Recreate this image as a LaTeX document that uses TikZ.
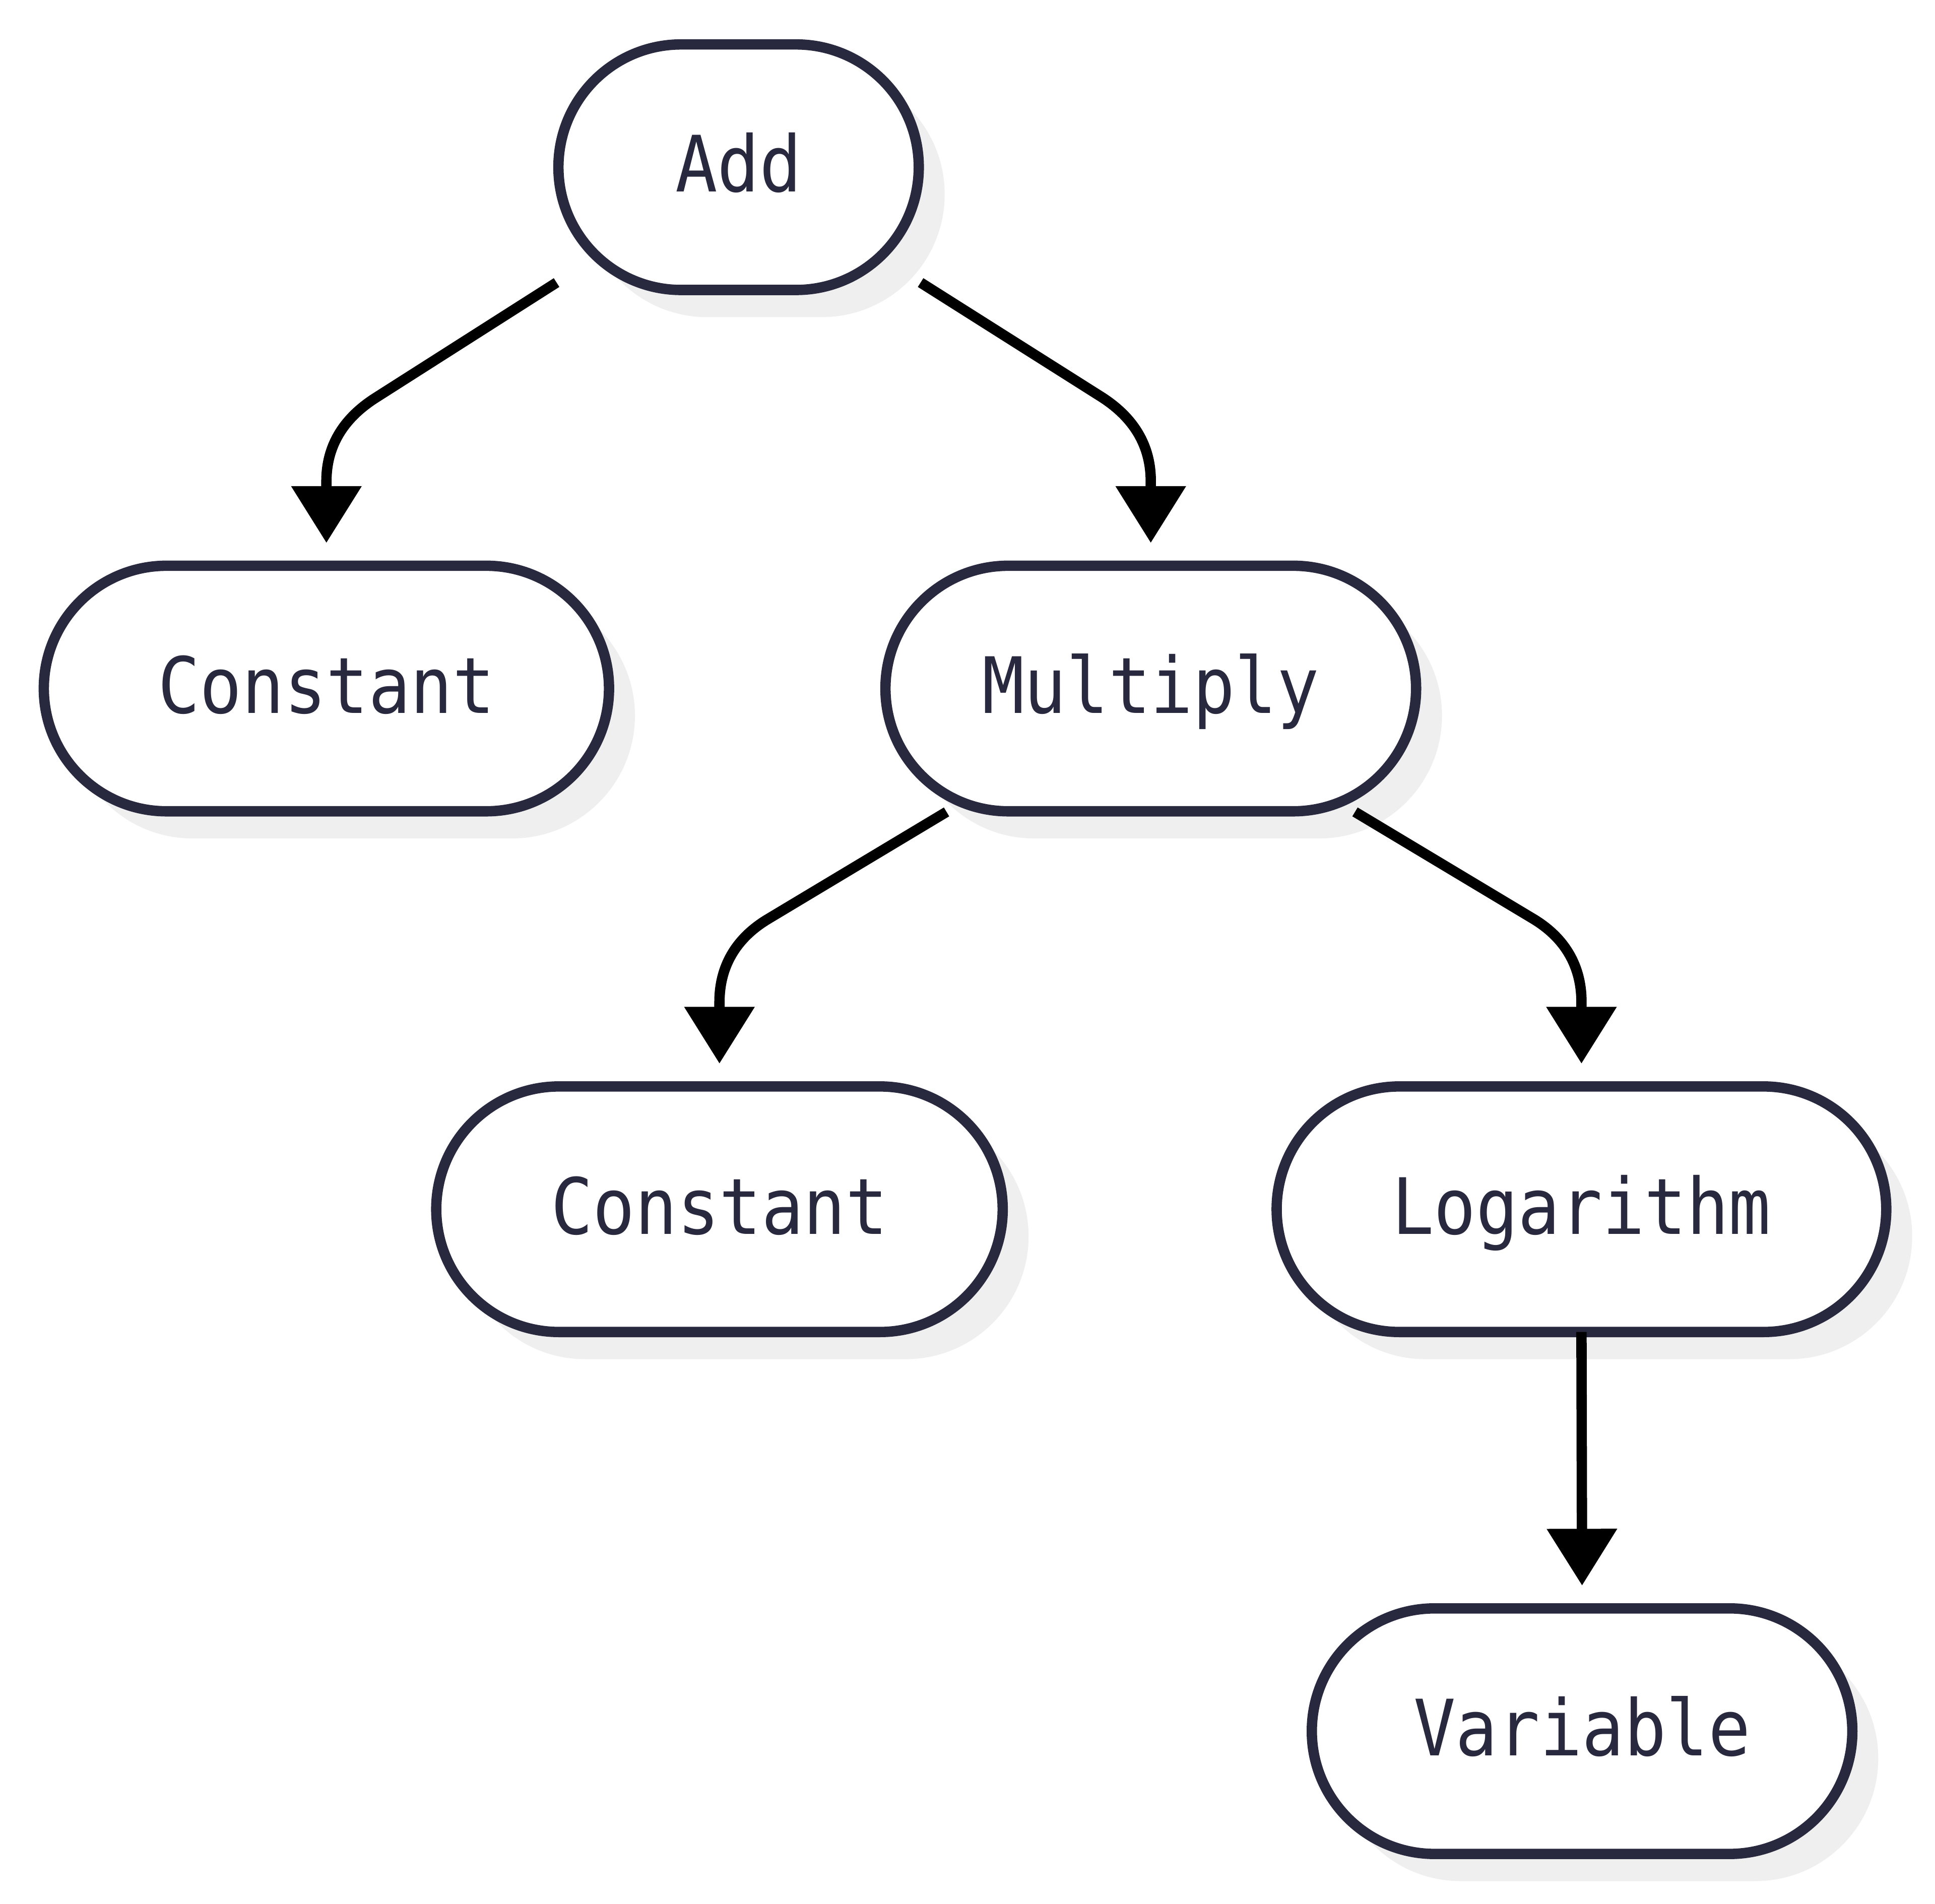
\documentclass[tikz,border=0pt]{standalone}
\usepackage{fontspec}
\newfontfamily\lblfont{DejaVu Sans Mono}[FakeStretch=0.9]
\usetikzlibrary{arrows.meta,shadows}
\definecolor{nodeline}{HTML}{28283E}
\definecolor{shadowgray}{HTML}{EFEFEF}
\begin{document}
\begin{tikzpicture}[x=0.5pt,y=-0.5pt,
  term/.style={draw=nodeline, line width=4.2pt, fill=white, rounded corners=49.75pt,
    minimum height=99.5pt, outer sep=0pt, inner sep=0pt, text=nodeline,
    text height=20pt, text depth=0pt,
    font=\lblfont\fontsize{31.5}{38}\selectfont,
    general shadow={fill=shadowgray, draw=none, shadow xshift=10.5pt, shadow yshift=-11pt}},
  edge/.style={line width=4.2pt, draw=black, -{Triangle[width=27.5pt,length=23pt]}}]
\useasboundingbox (0,0) rectangle (1568,1543);

\node[term, minimum width=146pt]   (add) at (598.5,135.5) {Add};
\node[term, minimum width=229pt]   (c1)  at (264.5,558)   {Constant};
\node[term, minimum width=215pt]   (mul) at (932.5,558)   {Multiply};
\node[term, minimum width=229.5pt] (c2)  at (583,980)     {Constant};
\node[term, minimum width=247pt]   (log) at (1281.5,980)  {Logarithm};
\node[term, minimum width=219pt]   (var) at (1282,1403)   {Variable};

\draw[edge] ([shift={(-147.5,93.5)}]add.center) -- (305,322)
  .. controls (278,339) and (264.5,361.7) .. (264.5,390) -- ([shift={(0,-18.5)}]c1.north);
\draw[edge] ([shift={(147.5,93.5)}]add.center) -- (893,322)
  .. controls (919.3,339) and (932.5,361.7) .. (932.5,390) -- ([shift={(0,-18.5)}]mul.north);
\draw[edge] ([shift={(-165.5,100)}]mul.center) -- (622,745)
  .. controls (596,760.7) and (583,783.7) .. (583,812) -- ([shift={(0,-18.5)}]c2.north);
\draw[edge] ([shift={(165.5,100)}]mul.center) -- (1243,745)
  .. controls (1268.7,760.7) and (1281.5,783.7) .. (1281.5,812) -- ([shift={(0,-18.5)}]log.north);
\draw[edge] (log.south) -- ([shift={(0,-18.5)}]var.north);
\end{tikzpicture}
\end{document}
